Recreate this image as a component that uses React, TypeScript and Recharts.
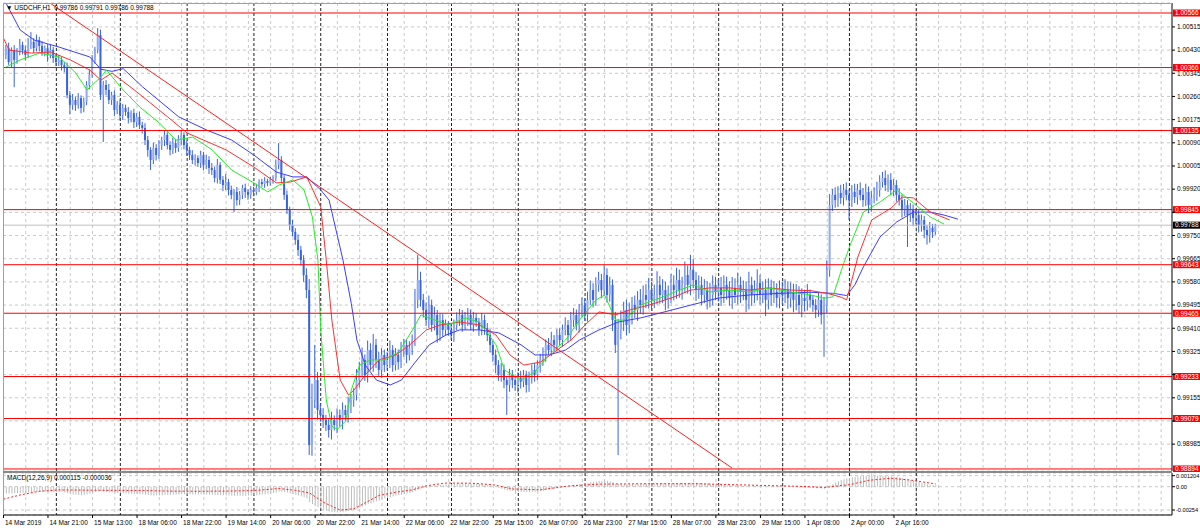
import { Bar, CartesianGrid, ComposedChart, Line, ReferenceLine, XAxis, YAxis } from "recharts"

const FONT = "'Liberation Sans', Arial, sans-serif"
const WICK = "#3a63de"
const BEAR = "#3a63de"
const BULL = "#93abee"

// one bar per hour, bar 0 = 14 Mar 2019 05:00, a label every 16 bars
const timeLabels = [
    "14 Mar 2019", "14 Mar 21:00", "15 Mar 13:00", "18 Mar 06:00", "18 Mar 22:00",
    "19 Mar 14:00", "20 Mar 06:00", "20 Mar 22:00", "21 Mar 14:00", "22 Mar 06:00",
    "22 Mar 22:00", "25 Mar 15:00", "26 Mar 07:00", "26 Mar 23:00", "27 Mar 15:00",
    "28 Mar 07:00", "28 Mar 23:00", "29 Mar 15:00", "1 Apr 08:00", "2 Apr 00:00", "2 Apr 16:00",
]
const labelBars = [0, 16, 32, 48, 64, 80, 96, 112, 128, 144, 160, 176, 192, 208, 224, 240, 256, 272, 288, 304, 320]
// midnight bars (black period separators)
const daySeparators = [19, 42, 66, 90, 114, 138, 161, 185, 209, 233, 257, 280, 304, 328]

// prices in points (0.00001) away from 1.00000
const priceTicks = [515, 430, 345, 260, 175, 90, 5, -80, -165, -250, -335, -420, -505, -590, -675, -760, -845, -930, -1015]
// ticks whose text sits under a level tag
const coveredTicks = [-165, -760, -930]
const levels = [566, 366, 135, -155, -357, -535, -767, -921, -1106]
const lastPrice = -212
const trendFrom = { x: 16.7, y: 602.7 }
const trendTo = { x: 261.8, y: -1102.5 }

const firstOpen = 420
const closes = [
    412, 437, 386, 430, 394, 423, 449, 430, 412, 449,
    460, 437, 467, 445, 423, 437, 412, 430, 401, 386,
    394, 375, 364, 265, 229, 247, 229, 254, 218, 240,
    302, 339, 394, 430, 485, 265, 302, 284, 247, 265,
    210, 229, 192, 218, 203, 181, 199, 166, 185, 155,
    144, 100, 64, 27, 71, 45, 82, 100, 119, 82,
    64, 89, 71, 100, 119, 82, 64, 45, 27, 34,
    16, 45, 9, 27, -2, -10, -39, 9, -46, -65,
    -54, -83, -101, -90, -120, -101, -76, -90, -101, -83,
    -90, -76, -54, -61, -50, -57, -46, -39, 9, 27,
    -39, -101, -156, -211, -237, -266, -303, -340, -395, -450,
    -1018, -853, -780, -890, -908, -926, -945, -963, -926, -945,
    -908, -926, -890, -908, -871, -853, -835, -780, -743, -706,
    -761, -670, -725, -651, -706, -743, -688, -725, -706, -670,
    -725, -688, -714, -670, -651, -688, -663, -633, -486, -413,
    -486, -523, -560, -505, -578, -541, -615, -560, -596, -578,
    -596, -615, -578, -560, -541, -578, -560, -541, -578, -552,
    -567, -596, -560, -589, -615, -651, -688, -725, -761, -743,
    -780, -798, -761, -780, -798, -771, -786, -761, -798, -771,
    -743, -761, -725, -706, -688, -651, -670, -633, -651, -615,
    -633, -596, -578, -615, -560, -541, -578, -523, -505, -541,
    -486, -450, -486, -431, -413, -450, -395, -468, -431, -560,
    -651, -596, -560, -523, -578, -541, -505, -523, -486, -505,
    -468, -486, -450, -486, -468, -431, -468, -450, -486, -468,
    -431, -450, -413, -450, -431, -395, -431, -376, -413, -450,
    -431, -468, -450, -486, -468, -431, -457, -442, -468, -431,
    -450, -479, -442, -468, -431, -457, -450, -486, -431, -468,
    -450, -424, -468, -450, -486, -442, -468, -457, -479, -450,
    -468, -450, -479, -457, -486, -468, -505, -479, -490, -468,
    -486, -505, -523, -486, -541, -505, -376, -138, -101, -120,
    -94, -112, -83, -101, -120, -90, -109, -83, -101, -120,
    -90, -138, -112, -101, -83, -54, -39, -65, -46, -83,
    -65, -101, -120, -156, -138, -175, -156, -186, -175, -211,
    -193, -230, -248, -222, -237, -212,
]
const wickUp = [
    15, 12, 20, 10, 18, 14, 22, 12, 16, 25,
    36, 14, 20, 12, 18, 10, 15, 20, 12, 14,
    18, 10, 12, 20, 15, 22, 12, 18, 10, 16,
    14, 20, 18, 12, 26, 20, 15, 18, 22, 12,
    18, 14, 20, 15, 12, 18, 10, 16, 14, 20,
    12, 18, 15, 10, 20, 14, 18, 12, 16, 10,
    14, 20, 12, 18, 15, 10, 16, 12, 18, 14,
    10, 16, 12, 20, 14, 18, 12, 22, 10, 14,
    30, 12, 16, 10, 18, 14, 12, 16, 10, 14,
    12, 16, 10, 12, 14, 8, 12, 10, 20, 62,
    14, 10, 16, 12, 18, 14, 20, 15, 18, 25,
    40, 60, 129, 30, 20, 25, 18, 22, 30, 16,
    24, 20, 28, 18, 30, 22, 25, 40, 30, 45,
    20, 35, 25, 40, 22, 30, 25, 20, 28, 35,
    18, 25, 20, 30, 22, 18, 25, 20, 40, 92,
    30, 22, 28, 35, 20, 30, 18, 25, 22, 20,
    15, 25, 20, 28, 22, 18, 30, 25, 20, 22,
    18, 15, 25, 20, 18, 22, 15, 20, 18, 25,
    20, 15, 22, 18, 15, 20, 25, 18, 15, 22,
    20, 25, 18, 22, 28, 20, 25, 30, 18, 22,
    25, 20, 28, 18, 30, 25, 20, 22, 28, 25,
    30, 35, 25, 28, 30, 22, 37, 25, 30, 20,
    30, 40, 35, 30, 38, 45, 30, 35, 32, 40,
    35, 40, 45, 30, 38, 50, 32, 40, 30, 35,
    40, 35, 45, 38, 30, 50, 35, 55, 40, 30,
    35, 30, 40, 32, 45, 35, 30, 32, 40, 35,
    30, 32, 40, 35, 45, 30, 35, 32, 48, 30,
    35, 50, 30, 32, 40, 35, 30, 40, 32, 35,
    30, 40, 32, 35, 30, 40, 32, 35, 30, 40,
    20, 18, 22, 25, 20, 30, 35, 40, 22, 28,
    25, 30, 22, 28, 20, 25, 30, 22, 28, 25,
    30, 20, 25, 28, 30, 25, 22, 28, 20, 25,
    22, 18, 25, 20, 22, 18, 25, 20, 22, 18,
    20, 15, 18, 22, 15, 5,
]
const wickDown = [
    12, 15, 10, 18, 100, 14, 12, 16, 20, 12,
    15, 18, 12, 20, 14, 16, 25, 12, 18, 15,
    14, 20, 16, 12, 35, 18, 22, 14, 20, 16,
    12, 15, 10, 14, 12, 18, 172, 20, 15, 18,
    22, 15, 20, 18, 14, 20, 16, 22, 18, 15,
    20, 18, 25, 37, 15, 20, 14, 18, 22, 16,
    20, 15, 18, 14, 20, 16, 22, 18, 15, 20,
    14, 18, 20, 15, 22, 18, 16, 20, 15, 22,
    18, 20, 16, 63, 20, 18, 15, 22, 18, 14,
    16, 12, 15, 10, 14, 12, 10, 14, 12, 16,
    14, 18, 15, 20, 16, 18, 22, 20, 25, 30,
    37, 40, 30, 35, 25, 30, 22, 28, 35, 20,
    30, 25, 35, 22, 28, 30, 25, 20, 28, 25,
    22, 28, 20, 25, 30, 22, 28, 25, 20, 30,
    25, 20, 28, 22, 25, 30, 20, 25, 22, 30,
    25, 28, 22, 30, 25, 20, 28, 22, 25, 20,
    22, 18, 25, 20, 22, 25, 18, 22, 20, 25,
    18, 22, 20, 25, 22, 28, 25, 30, 22, 25,
    30, 110, 25, 30, 22, 28, 25, 20, 28, 25,
    22, 25, 20, 28, 22, 25, 20, 22, 25, 20,
    22, 25, 20, 28, 22, 25, 20, 28, 25, 22,
    25, 20, 28, 22, 25, 30, 22, 28, 25, 40,
    30, 404, 35, 40, 38, 30, 35, 30, 40, 32,
    35, 30, 32, 40, 30, 35, 32, 30, 38, 32,
    30, 38, 32, 28, 35, 30, 32, 38, 30, 40,
    32, 38, 30, 35, 28, 38, 30, 35, 40, 30,
    35, 28, 40, 30, 35, 40, 30, 45, 35, 40,
    30, 38, 35, 30, 60, 35, 40, 30, 35, 38,
    35, 30, 40, 35, 45, 38, 30, 45, 38, 35,
    28, 25, 30, 25, 35, 154, 30, 25, 22, 28,
    25, 22, 28, 20, 73, 25, 22, 28, 20, 25,
    22, 30, 25, 20, 22, 25, 20, 22, 25, 20,
    22, 25, 20, 28, 22, 117, 25, 30, 22, 28,
    25, 30, 35, 28, 22, 10,
]

// Alligator lines: [bar, points]
const jawPts: [number, number][] = [
    [0, 620], [6, 504], [11, 467], [20, 441], [31, 405], [35, 360], [39, 352], [43, 362], [50, 295],
    [63, 185], [73, 137], [82, 100], [90, 45], [98, -17], [104, -35], [109, -35], [114, -83], [117, -120],
    [122, -340], [125, -500], [127, -633], [130, -725], [134, -780], [139, -798], [143, -780], [148, -714],
    [153, -651], [159, -615], [164, -596], [171, -596], [178, -607], [186, -651], [191, -688], [196, -688],
    [202, -670], [207, -633], [214, -596], [221, -567], [229, -552], [236, -534], [247, -505], [257, -479],
    [268, -468], [279, -462], [290, -458], [298, -462], [303, -470], [306, -430], [309, -365], [315, -255],
    [321, -200], [327, -164], [333, -164], [338, -175], [343, -190],
]
const teethPts: [number, number][] = [
    [0, 474], [2, 430], [10, 419], [17, 423], [24, 394], [31, 357], [35, 320], [39, 346], [47, 284],
    [59, 185], [66, 126], [80, 64], [90, 1], [98, -57], [103, -54], [109, -35], [114, -145], [116, -340],
    [118, -560], [121, -780], [124, -835], [126, -816], [130, -761], [135, -706], [141, -688], [146, -651],
    [152, -596], [157, -578], [164, -567], [171, -578], [177, -615], [182, -688], [187, -725], [193, -714],
    [198, -677], [204, -633], [209, -578], [214, -530], [220, -541], [225, -523], [232, -505], [240, -479],
    [247, -450], [254, -442], [261, -442], [268, -450], [275, -442], [283, -450], [290, -452], [296, -462],
    [301, -476], [303, -486], [307, -329], [312, -193], [319, -149], [323, -109], [327, -112], [333, -164],
    [340, -193],
]
const lipsPts: [number, number][] = [
    [1, 368], [6, 394], [13, 419], [20, 405], [26, 346], [30, 284], [35, 331], [37, 357], [43, 284],
    [49, 221], [56, 163], [62, 100], [68, 111], [75, 64], [82, -10], [90, -57], [95, -90], [99, -65],
    [104, -46], [108, -83], [111, -182], [113, -340], [114, -596], [116, -853], [118, -950], [120, -960],
    [123, -930], [125, -816], [128, -725], [132, -706], [137, -706], [142, -677], [147, -596], [150, -541],
    [155, -560], [160, -578], [166, -552], [171, -567], [177, -651], [180, -743], [186, -780], [191, -750],
    [196, -688], [202, -633], [207, -560], [213, -486], [216, -468], [220, -560], [223, -560], [229, -505],
    [236, -479], [243, -450], [248, -431], [254, -457], [261, -450], [268, -457], [275, -442], [283, -457],
    [290, -468], [295, -480], [298, -475], [301, -380], [304, -292], [309, -164], [315, -127], [321, -83],
    [327, -131], [333, -182], [338, -208],
]

// MACD(12,26,9) main values per bar, in points
const macdHist = [
    -72, -74, -75, -74, -72, -70, -68, -66, -64, -62,
    -60, -58, -56, -55, -54, -52, -52, -53, -55, -57,
    -58, -60, -62, -70, -78, -84, -88, -90, -92, -90,
    -84, -76, -66, -56, -44, -50, -54, -57, -60, -62,
    -66, -68, -70, -72, -74, -76, -77, -79, -80, -81,
    -83, -86, -90, -94, -95, -96, -95, -93, -91, -90,
    -89, -88, -87, -85, -83, -82, -82, -83, -84, -85,
    -86, -86, -85, -86, -88, -89, -91, -90, -92, -94,
    -95, -96, -98, -99, -100, -100, -99, -98, -97, -96,
    -94, -92, -88, -85, -82, -78, -74, -70, -62, -55,
    -54, -58, -64, -72, -80, -88, -96, -104, -114, -126,
    -168, -190, -205, -222, -238, -250, -262, -270, -276, -279,
    -280, -278, -274, -270, -264, -258, -250, -240, -228, -216,
    -206, -192, -182, -170, -160, -150, -140, -130, -122, -114,
    -108, -100, -94, -88, -80, -74, -68, -60, -45, -30,
    -22, -14, -8, -2, 4, 10, 14, 18, 22, 26,
    28, 30, 32, 34, 35, 36, 36, 35, 34, 33,
    31, 29, 26, 23, 18, 12, 5, -4, -14, -22,
    -30, -38, -44, -48, -52, -55, -57, -58, -58, -57,
    -56, -54, -51, -47, -43, -38, -33, -28, -22, -16,
    -10, -4, 2, 6, 12, 18, 22, 26, 32, 38,
    44, 50, 54, 58, 62, 66, 70, 64, 58, 48,
    36, 30, 28, 28, 26, 26, 28, 28, 29, 30,
    31, 32, 34, 34, 35, 36, 37, 37, 36, 37,
    38, 38, 39, 40, 40, 41, 42, 44, 44, 42,
    40, 38, 36, 34, 32, 30, 28, 26, 24, 22,
    20, 18, 16, 14, 12, 11, 10, 9, 8, 8,
    7, 8, 6, 5, 4, 4, 3, 2, 1, 0,
    -1, -2, -3, -4, -5, -6, -8, -10, -11, -12,
    -13, -14, -16, -18, -20, -22, -14, 10, 30, 46,
    60, 72, 82, 90, 96, 102, 106, 110, 113, 115,
    117, 118, 120, 120, 119, 118, 117, 116, 114, 112,
    108, 104, 98, 92, 86, 80, 72, 66, 58, 52,
    44, 36, 28, 22, 16, 12,
]
const signalPts: [number, number][] = [
    [0, -136], [6, -90], [13, -50], [20, -35], [30, -38], [40, -40], [50, -42], [60, -48], [70, -50],
    [80, -48], [90, -42], [99, -20], [105, -40], [110, -68], [115, -170], [121, -255], [126, -240],
    [131, -160], [135, -95], [141, -60], [147, -34], [152, 10], [159, 40], [168, 38], [176, 22],
    [183, -25], [193, -34], [203, 8], [214, 28], [229, 32], [250, 32], [272, 14], [286, 4], [295, -8],
    [304, 22], [311, 70], [319, 92], [326, 72], [335, 30],
]
const macdTicks = [120.4, 0, -254]

const X_DOMAIN: [number, number] = [-0.17, 419.9]
const PRICE_DOMAIN: [number, number] = [-1113.5, 602.7]
const MACD_DOMAIN: [number, number] = [-308.6, 149.4]
const gridBars = Array.from({ length: 52 }, (_, k) => 8 * (k + 1))

const fmt = (v: number) => (1 + v / 100000).toFixed(5)
const fmtTick = (v: number) => (coveredTicks.includes(v) ? "" : fmt(v))
const fmtMacd = (v: number) => (v === 0 ? "0.00" : v > 0 ? "0.001204" : "-0.00254")

const rows: Record<string, any>[] = Array.from({ length: 344 }, (_, i) => {
    const row: Record<string, any> = { i }
    if (i < closes.length) {
        const open = i === 0 ? firstOpen : closes[i - 1]
        const close = closes[i]
        row.open = open
        row.close = close
        row.range = [Math.min(open, close) - wickDown[i], Math.max(open, close) + wickUp[i]]
        row.macd = macdHist[i]
    }
    return row
})
const put = (key: string, pts: [number, number][]) => pts.forEach(([b, v]) => { rows[b][key] = v })
put("jaw", jawPts)
put("teeth", teethPts)
put("lips", lipsPts)
put("signal", signalPts)

const xCoords = (bars: number[]) => ({ xAxis, offset }: any) => {
    const s = xAxis?.scale
    return bars.map((b) =>
        typeof s === "function"
            ? s(b)
            : offset.left + ((b - X_DOMAIN[0]) / (X_DOMAIN[1] - X_DOMAIN[0])) * offset.width,
    )
}

const Candle = (props: any) => {
    const { x, y, width, height, payload } = props
    if (!payload || !payload.range) return null
    const [low, high] = payload.range
    const cx = x + width / 2
    const k = high === low ? 0 : height / (high - low)
    const top = y + (high - Math.max(payload.open, payload.close)) * k
    const bot = y + (high - Math.min(payload.open, payload.close)) * k
    const bull = payload.close >= payload.open
    return (
        <g>
            <line x1={cx} x2={cx} y1={y} y2={y + height} stroke={WICK} strokeWidth={1} />
            <rect x={cx - 1} y={top} width={2} height={Math.max(bot - top, 1)} fill={bull ? BULL : BEAR} />
        </g>
    )
}

const Tag = ({ viewBox, text, bg }: any) => {
    if (!viewBox) return null
    const x = viewBox.x + viewBox.width + 1
    const y = viewBox.y
    return (
        <g>
            <rect x={x} y={y - 3.5} width={27} height={7} fill={bg} />
            <text x={x + 2} y={y + 2.3} fill="#fff" fontSize={6.5} fontFamily={FONT}>
                {text}
            </text>
        </g>
    )
}

const TimeTick = ({ x, y, payload }: any) => {
    const idx = labelBars.indexOf(payload.value)
    return (
        <text x={x + 1.5} y={y} dy="0.71em" fontSize={6.5} fontFamily={FONT} fill="#000" textAnchor="start">
            {timeLabels[idx]}
        </text>
    )
}

const tickStyle = { fontSize: 6.5, fill: "#000", fontFamily: FONT }
const macdTickStyle = { fontSize: 5.6, fill: "#000", fontFamily: FONT }

const App = () => {
    return (
        <div style={{ position: "absolute", left: 0, top: 0, width: 1200, height: 531, background: "#fff", fontFamily: FONT }}>
            <div style={{ position: "absolute", left: 0, top: 0 }}>
                <ComposedChart width={1200} height={472} data={rows} margin={{ top: 3, right: 0, bottom: 1, left: 3 }}>
                    <CartesianGrid stroke="#c8c8c8" strokeDasharray="3 3" vertical={false} />
                    <CartesianGrid stroke="#c8c8c8" strokeDasharray="3 3" horizontal={false} verticalCoordinatesGenerator={xCoords(gridBars)} />
                    <CartesianGrid stroke="#222" strokeDasharray="3 2" horizontal={false} verticalCoordinatesGenerator={xCoords(daySeparators)} />
                    <XAxis type="number" dataKey="i" domain={X_DOMAIN} allowDataOverflow hide />
                    <YAxis
                        orientation="right"
                        width={28}
                        domain={PRICE_DOMAIN}
                        allowDataOverflow
                        ticks={priceTicks}
                        interval={0}
                        tickFormatter={fmtTick}
                        tick={tickStyle}
                        tickSize={3}
                        tickLine={{ stroke: "#000" }}
                        axisLine={{ stroke: "#000" }}
                    />
                    <ReferenceLine
                        y={lastPrice}
                        stroke="#c0c0c0"
                        label={(p: any) => <Tag viewBox={p.viewBox} text={fmt(lastPrice)} bg="#000" />}
                    />
                    <Bar dataKey="range" barSize={2} shape={<Candle />} isAnimationActive={false} />
                    <Line dataKey="jaw" type="linear" stroke="#3c3cff" strokeWidth={1} dot={false} connectNulls isAnimationActive={false} />
                    <Line dataKey="teeth" type="linear" stroke="#ff3030" strokeWidth={1} dot={false} connectNulls isAnimationActive={false} />
                    <Line dataKey="lips" type="linear" stroke="#22ee22" strokeWidth={1} dot={false} connectNulls isAnimationActive={false} />
                    {levels.map((l) => (
                        <ReferenceLine
                            key={l}
                            y={l}
                            stroke="#ff0000"
                            label={(p: any) => <Tag viewBox={p.viewBox} text={fmt(l)} bg="#ff0000" />}
                        />
                    ))}
                    <ReferenceLine segment={[trendFrom, trendTo]} stroke="#ff2020" ifOverflow="hidden" />
                </ComposedChart>
            </div>
            <div style={{ position: "absolute", left: 0, top: 473 }}>
                <ComposedChart width={1200} height={58} data={rows} margin={{ top: 0, right: 0, bottom: 0, left: 3 }}>
                    <CartesianGrid stroke="#c8c8c8" strokeDasharray="3 3" vertical={false} />
                    <CartesianGrid stroke="#c8c8c8" strokeDasharray="3 3" horizontal={false} verticalCoordinatesGenerator={xCoords(gridBars)} />
                    <CartesianGrid stroke="#222" strokeDasharray="3 2" horizontal={false} verticalCoordinatesGenerator={xCoords(daySeparators)} />
                    <XAxis
                        type="number"
                        dataKey="i"
                        domain={X_DOMAIN}
                        allowDataOverflow
                        ticks={labelBars}
                        interval={0}
                        height={16}
                        tick={<TimeTick />}
                        tickSize={3}
                        tickLine={{ stroke: "#000" }}
                        axisLine={{ stroke: "#000" }}
                    />
                    <YAxis
                        orientation="right"
                        width={28}
                        domain={MACD_DOMAIN}
                        allowDataOverflow
                        ticks={macdTicks}
                        interval={0}
                        tickFormatter={fmtMacd}
                        tick={macdTickStyle}
                        tickSize={3}
                        tickMargin={1}
                        tickLine={{ stroke: "#000" }}
                        axisLine={{ stroke: "#000" }}
                    />
                    <Bar dataKey="macd" barSize={1} fill="#bdbdbd" isAnimationActive={false} />
                    <Line dataKey="signal" type="linear" stroke="#ff2020" strokeDasharray="2 2" strokeWidth={1} dot={false} connectNulls isAnimationActive={false} />
                </ComposedChart>
            </div>
            {/* window frames */}
            <div style={{ position: "absolute", left: 3, top: 3, width: 1169, height: 0, borderTop: "1px solid #a0a0a0" }} />
            <div style={{ position: "absolute", left: 3, top: 3, width: 0, height: 512, borderLeft: "1px solid #a0a0a0" }} />
            <div style={{ position: "absolute", left: 3, top: 471, width: 1169, height: 2, background: "#8a8a8a" }} />
            <div style={{ position: "absolute", left: 6, top: 3, fontSize: 6.5, lineHeight: "9px", color: "#000", whiteSpace: "pre" }}>
                {"▼ USDCHF,H1  0.99786 0.99791 0.99786 0.99788"}
            </div>
            <div style={{ position: "absolute", left: 7, top: 473, fontSize: 6.5, lineHeight: "9px", color: "#000", whiteSpace: "pre" }}>
                {"MACD(12,26,9) 0.000115 -0.000036"}
            </div>
        </div>
    )
}

export default App
